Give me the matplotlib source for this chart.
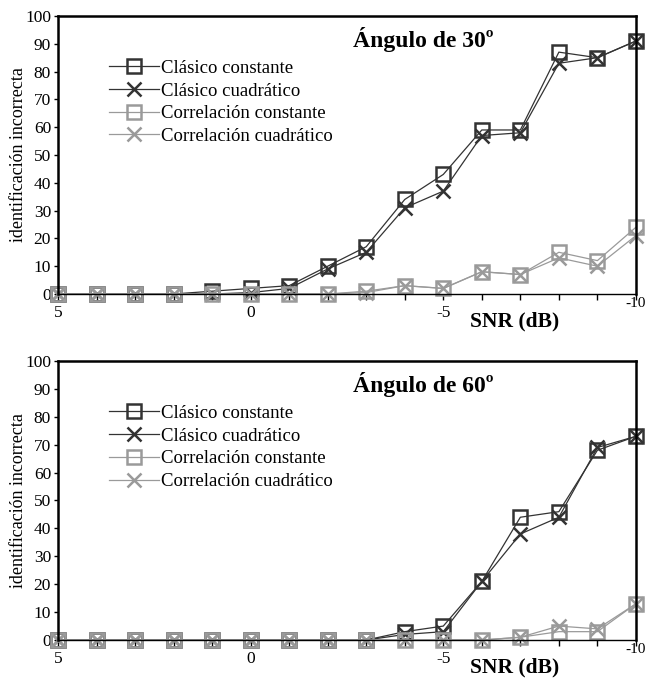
import matplotlib
matplotlib.use('Agg')
import matplotlib.pyplot as plt
import matplotlib.transforms as mtransforms

plt.rcParams['font.family'] = ['Liberation Serif', 'DejaVu Serif']

snr = [5, 4, 3, 2, 1, 0, -1, -2, -3, -4, -5, -6, -7, -8, -9, -10]

# angle 30
c30_const = [0, 0, 0, 0, 1, 2, 3, 10, 17, 34, 43, 59, 59, 87, 85, 91]
c30_quad = [0, 0, 0, 0, 0, 0.5, 2, 9, 15, 31, 37, 57, 58, 83, 85, 91]
r30_const = [0, 0, 0, 0, 0, 0, 0, 0, 1, 3, 2, 8, 7, 15, 12, 24]
r30_quad = [0, 0, 0, 0, 0, 0, 0, 0, 0.5, 3, 2, 8, 7, 13, 10, 21]

# angle 60
c60_const = [0, 0, 0, 0, 0, 0, 0, 0, 0, 3, 5, 21, 44, 46, 68, 73]
c60_quad = [0, 0, 0, 0, 0, 0, 0, 0, 0, 2, 3, 21, 38, 44, 69, 73]
r60_const = [0, 0, 0, 0, 0, 0, 0, 0, 0, 0, 0, 0, 1, 3, 3, 13]
r60_quad = [0, 0, 0, 0, 0, 0, 0, 0, 0, 0, 0, 0, 1, 5, 4, 13]

labels = ['Clásico constante', 'Clásico cuadrático',
          'Correlación constante', 'Correlación cuadrático']
dark = '#333333'
light = '#9a9a9a'
styles = [(dark, 's'), (dark, 'x'), (light, 's'), (light, 'x')]

fig = plt.figure(figsize=(6.56, 6.78), dpi=100)
ax1 = fig.add_axes([0.0884, 0.5664, 0.881, 0.41])
ax2 = fig.add_axes([0.0884, 0.0560, 0.881, 0.4116])


def draw(ax, series, title):
    for ys, lab, (col, mk) in zip(series, labels, styles):
        ax.plot(snr, ys, color=col, lw=0.9, marker=mk, ms=9.5 if mk == 's' else 10,
                mfc='none', mec=col, mew=1.8, label=lab, clip_on=False)
    ax.set_xlim(5, -10)
    ax.set_ylim(0, 100)
    ax.set_yticks(range(0, 101, 10))
    ax.set_xticks(snr, minor=True)
    ax.set_xticks([5, 0, -5])
    ax.set_xticklabels(['5', '0', '-5'])
    ax.tick_params(axis='x', which='both', direction='out', length=4, width=1, pad=4, labelsize=12.5)
    ax.tick_params(axis='y', direction='out', length=3, width=1, labelsize=12.5, pad=2)
    for s in ['left', 'top', 'right']:
        ax.spines[s].set_linewidth(1.8)
    ax.spines['bottom'].set_linewidth(1.0)
    trans = mtransforms.blended_transform_factory(ax.transData, ax.transAxes)
    ax.text(-10, -0.012, '-10', transform=trans, ha='center', va='top', fontsize=11)
    ax.text(0.713, -0.1, 'SNR (dB)', transform=ax.transAxes, ha='left', va='center',
            fontsize=15.5, fontweight='bold')
    ax.text(0.51, 0.914, title, transform=ax.transAxes, ha='left', va='center',
            fontsize=17, fontweight='bold')
    ax.set_ylabel('identificación incorrecta', fontsize=13)
    ax.yaxis.set_label_coords(-0.053, 0.5)
    ax.legend(loc='upper left', bbox_to_anchor=(0.075, 0.87), frameon=False, fontsize=13.5,
              handlelength=2.7, handletextpad=0.1, labelspacing=0.3, borderaxespad=0)


draw(ax1, [c30_const, c30_quad, r30_const, r30_quad], 'Ángulo de 30º')
draw(ax2, [c60_const, c60_quad, r60_const, r60_quad], 'Ángulo de 60º')

fig.savefig('out.png', dpi=100)
